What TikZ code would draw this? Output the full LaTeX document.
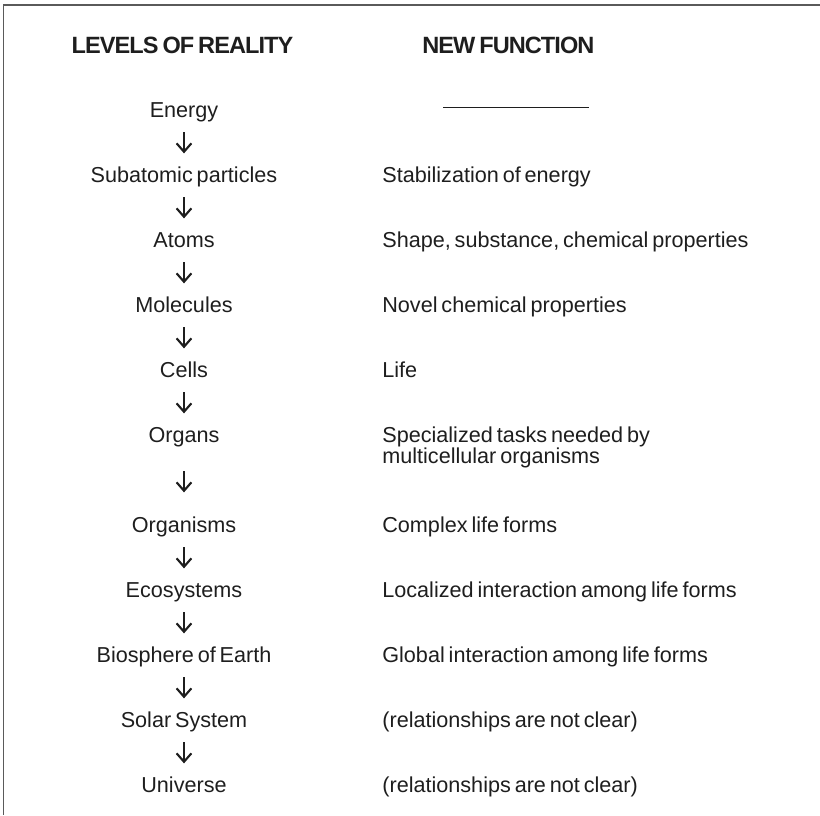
\documentclass[tikz,border=0pt]{standalone}
\usepackage{fontspec}
\setmainfont{Liberation Sans}[WordSpace=0.65]
\newfontfamily\headfont{Liberation Sans}[LetterSpace=-4,WordSpace=0.7]
\usepackage{xcolor}
\usetikzlibrary{arrows.meta,positioning}
\definecolor{ink}{HTML}{1E1E1E}
\definecolor{framegray}{HTML}{5A5A5A}

\begin{document}
\begin{tikzpicture}[
font=\fontsize{12.3}{12}\selectfont,
head/.style={inner sep=0pt, anchor=base, text=ink, font=\headfont\bfseries\fontsize{13.4}{14}\selectfont},
level/.style={inner sep=0pt, text height=8.7pt, text depth=0pt, anchor=base, text=ink},
fn/.style={inner sep=0pt, anchor=base west, align=left, text=ink},
arrow/.style={-{Straight Barb[length=4.8pt,width=8.4pt]}, line width=1.2pt, draw=ink, shorten <=0.3cm, shorten >=0.26cm},
frame/.style={line width=1.1pt, draw=framegray},
blank/.style={line width=0.5pt, draw=ink}
]
\useasboundingbox (0,0) rectangle (16.4,-16.3);
\draw[frame] (16.4,-0.1) -- (0.07,-0.1) -- (0.07,-16.3);

\node[head] (levhead) at (3.65,-1.06) {LEVELS OF REALITY};
\node[head, anchor=base west] (fnhead) at (8.44,-1.06) {NEW FUNCTION};

\node[level] (energy) at (3.68,-2.34) {Energy};
\node[below=1.3cm of energy.base, level] (subatomic) {Subatomic particles};
\node[below=1.3cm of subatomic.base, level] (atoms) {Atoms};
\node[below=1.3cm of atoms.base, level] (molecules) {Molecules};
\node[below=1.3cm of molecules.base, level] (cells) {Cells};
\node[below=1.3cm of cells.base, level] (organs) {Organs};
\node[below=1.8cm of organs.base, level] (organisms) {Organisms};
\node[below=1.3cm of organisms.base, level] (ecosystems) {Ecosystems};
\node[below=1.3cm of ecosystems.base, level] (biosphere) {Biosphere of Earth};
\node[below=1.3cm of biosphere.base, level] (solar) {Solar System};
\node[below=1.3cm of solar.base, level] (universe) {Universe};

\coordinate (fncol) at (7.64,0);
\draw[blank] (8.86,-2.14) -- (11.78,-2.14);
\node[fn] (f1) at (fncol |- subatomic.base) {Stabilization of energy};
\node[fn] (f2) at (fncol |- atoms.base) {Shape, substance, chemical properties};
\node[fn] (f3) at (fncol |- molecules.base) {Novel chemical properties};
\node[fn] (f4) at (fncol |- cells.base) {Life};
\node[fn, yshift=-12pt] (f5) at (fncol |- organs.base) {Specialized tasks needed by\\multicellular organisms};
\node[fn] (f6) at (fncol |- organisms.base) {Complex life forms};
\node[fn] (f7) at (fncol |- ecosystems.base) {Localized interaction among life forms};
\node[fn] (f8) at (fncol |- biosphere.base) {Global interaction among life forms};
\node[fn] (f9) at (fncol |- solar.base) {(relationships are not clear)};
\node[fn] (f10) at (fncol |- universe.base) {(relationships are not clear)};

\draw[arrow] (energy) -- (subatomic);
\draw[arrow] (subatomic) -- (atoms);
\draw[arrow] (atoms) -- (molecules);
\draw[arrow] (molecules) -- (cells);
\draw[arrow] (cells) -- (organs);
\draw[arrow, shorten <=0.58cm, shorten >=0.48cm] (organs) -- (organisms);
\draw[arrow] (organisms) -- (ecosystems);
\draw[arrow] (ecosystems) -- (biosphere);
\draw[arrow] (biosphere) -- (solar);
\draw[arrow] (solar) -- (universe);
\end{tikzpicture}
\end{document}
